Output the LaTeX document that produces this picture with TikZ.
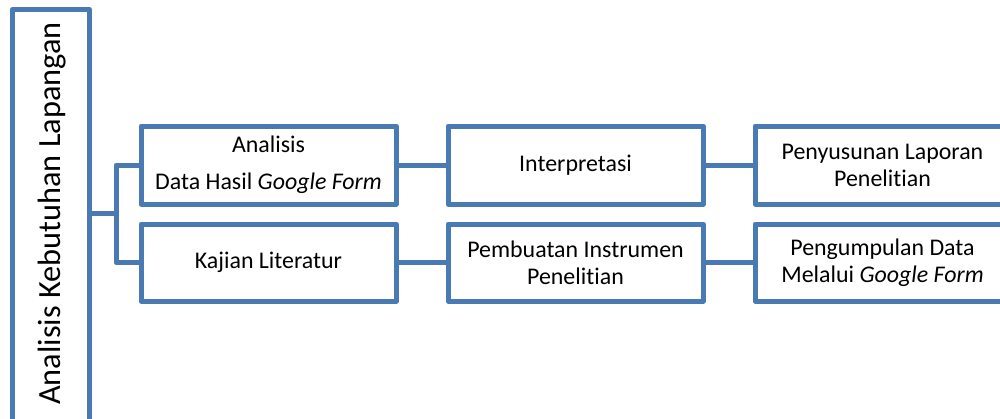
\documentclass[tikz,border=0pt]{standalone}
\usepackage{fontspec}
\setmainfont{Carlito}[Ligatures=NoCommon]
\usepackage{tikz}
\usetikzlibrary{positioning}
\definecolor{lineblue}{RGB}{74,122,180}
\tikzstyle{stage} = [rectangle, draw=lineblue, line width=0.1cm, line join=round, outer sep=0,
                     minimum width=5.1cm, minimum height=1.56cm, align=center,
                     font=\fontsize{13.6}{15.3}\selectfont]
\tikzstyle{link} = [draw=lineblue, line width=0.1cm, line join=round]

\begin{document}
\begin{tikzpicture}
				\useasboundingbox (0, 0) rectangle (20, -8.36);

				% left column
				\node (Lapangan) [stage, minimum width=1.54cm, minimum height=8.7cm] at (1.02, -4.54) {};
				\node (LapanganText) [rotate=90, font=\fontsize{18.4}{20}\selectfont] at (1.04, -4.27) {Analisis Kebutuhan Lapangan};
				\coordinate (Split) at (2.32, -4.26);
				\draw [link] (Lapangan.east |- Split) -- (Split);

				% upper row
				\node (Analisis) [stage] at (5.37, -3.3) {Analisis\\[5.5pt]Data Hasil \textit{Google Form}};
				\node (Interpretasi) [stage] at (11.51, -3.3) {Interpretasi};
				\node (Laporan) [stage] at (17.65, -3.3) {Penyusunan Laporan\\Penelitian};
				\draw [link] (Analisis) -- (Interpretasi);
				\draw [link] (Interpretasi) -- (Laporan);

				% lower row
				\node (Kajian) [stage, minimum height=1.54cm] at (5.37, -5.25) {Kajian Literatur};
				\node (Instrumen) [stage, minimum height=1.54cm] at (11.51, -5.25) {Pembuatan Instrumen\\Penelitian};
				\node (Pengumpulan) [stage, minimum height=1.54cm] at (17.65, -5.25) {Pengumpulan Data\\Melalui \textit{Google Form}};
				\draw [link] (Kajian) -- (Instrumen);
				\draw [link] (Instrumen) -- (Pengumpulan);

				% bracket
				\draw [link] (Analisis.west) -| (Split) |- (Kajian.west);
			\end{tikzpicture}
\end{document}
